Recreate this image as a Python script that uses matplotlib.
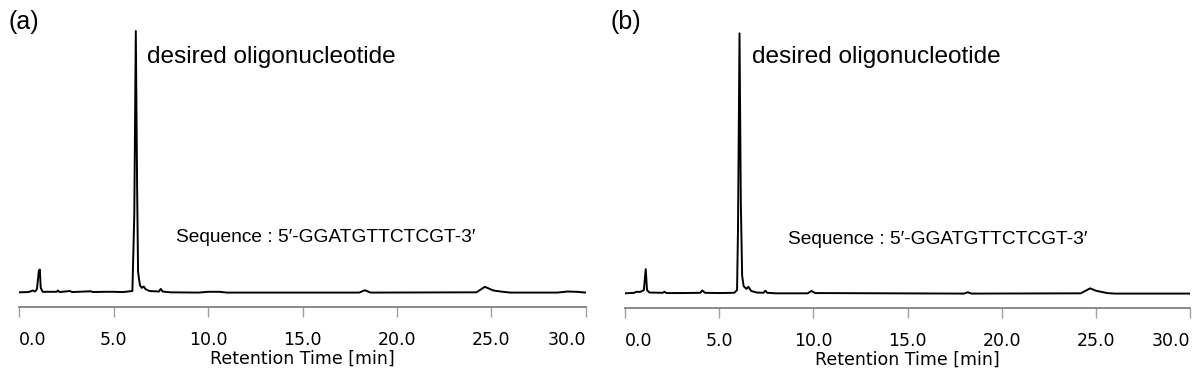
import matplotlib
matplotlib.use("Agg")
import matplotlib.pyplot as plt

# chromatogram (a): retention time [min] and relative signal (main peak = 100)
time_a = [0.0, 0.5, 0.75, 0.85, 0.95, 1.05, 1.1, 1.15, 1.25, 2.0, 2.05, 2.15,
          2.7, 2.8, 3.8, 3.9, 4.5, 5.0, 5.5, 6.0, 6.1, 6.18, 6.25, 6.3, 6.4,
          6.5, 6.6, 6.7, 6.9, 7.4, 7.5, 7.6, 8.0, 9.5, 10.0, 10.6, 11.0, 18.0,
          18.3, 18.6, 24.2, 24.65, 25.1, 25.6, 26.0, 28.5, 29.0, 29.5, 30.0]
signal_a = [0.3, 0.4, 1.0, 0.6, 1.5, 8.5, 9.0, 2.0, 0.5, 0.5, 1.0, 0.4,
            0.8, 0.4, 0.7, 0.4, 0.5, 0.5, 0.4, 0.8, 30, 100, 40, 8, 3,
            2, 2.5, 1.5, 0.8, 0.6, 1.6, 0.6, 0.3, 0.2, 0.5, 0.5, 0.2, 0.2,
            1.1, 0.2, 0.3, 2.4, 1.0, 0.5, 0.2, 0.2, 0.6, 0.5, 0.2]

# chromatogram (b)
time_b = [0.0, 0.5, 0.6, 0.8, 1.0, 1.1, 1.17, 1.3, 2.0, 2.1, 2.2, 3.0, 4.0,
          4.1, 4.25, 5.0, 5.8, 5.95, 6.0, 6.08, 6.15, 6.22, 6.3, 6.45, 6.55,
          6.7, 7.0, 7.35, 7.45, 7.55, 8.0, 9.7, 9.9, 10.1, 18.0, 18.2, 18.4,
          24.2, 24.7, 25.0, 25.6, 26.0, 30.0]
signal_b = [0.3, 0.5, 0.9, 0.8, 1.5, 9.5, 1.5, 0.6, 0.5, 0.9, 0.4, 0.4, 0.5,
            1.4, 0.5, 0.4, 0.5, 1.5, 25, 99.5, 35, 7, 3, 2, 2.8,
            1.2, 0.6, 0.5, 1.3, 0.5, 0.3, 0.3, 1.2, 0.4, 0.2, 0.7, 0.2,
            0.3, 2.2, 1.3, 0.4, 0.2, 0.2]

xticks = [0, 5, 10, 15, 20, 25, 30]
xticklabels = ["0.0", "5.0", "10.0", "15.0", "20.0", "25.0", "30.0"]

panel_labels = ["(a)", "(b)"]
peak_label = "desired oligonucleotide"
seq_label = "Sequence : 5\u2032-GGATGTTCTCGT-3\u2032"

fig = plt.figure(figsize=(12, 3.8), dpi=100)
ax_a = fig.add_axes([19 / 1200, 1 - 307 / 380, 567 / 1200, 282 / 380])
ax_b = fig.add_axes([625 / 1200, 1 - 308 / 380, 565 / 1200, 282 / 380])

for ax, t, s in [(ax_a, time_a, signal_a), (ax_b, time_b, signal_b)]:
    ax.plot(t, s, color="black", lw=1.4)
    ax.set_xlim(0, 30)
    ax.set_ylim(-5.3, 102.3)
    for side in ["top", "left", "right"]:
        ax.spines[side].set_visible(False)
    ax.spines["bottom"].set_color("#808080")
    ax.spines["bottom"].set_linewidth(1.3)
    ax.set_yticks([])
    ax.set_xticks(xticks)
    ax.set_xticklabels(xticklabels, fontsize=12.5, family="DejaVu Sans")
    ax.tick_params(axis="x", direction="out", length=7.5, width=1,
                   color="#a0a0a0", pad=9.5)
    labels = ax.get_xticklabels()
    labels[0].set_horizontalalignment("left")
    labels[-1].set_horizontalalignment("right")
    ax.set_xlabel("Retention Time [min]", fontsize=12.5, family="DejaVu Sans",
                  labelpad=0.5)

txt = dict(family="Liberation Sans", color="black")
fig.text(8 / 1200, 1 - 22 / 380, panel_labels[0], fontsize=18, va="center", **txt)
fig.text(611 / 1200, 1 - 22 / 380, panel_labels[1], fontsize=18, va="center", **txt)
fig.text(147 / 1200, 1 - 57 / 380, peak_label, fontsize=17.6, va="center", **txt)
fig.text(752 / 1200, 1 - 57 / 380, peak_label, fontsize=17.6, va="center", **txt)
fig.text(176 / 1200, 1 - 238 / 380, seq_label, fontsize=13.8, va="center", **txt)
fig.text(788 / 1200, 1 - 240 / 380, seq_label, fontsize=13.8, va="center", **txt)

fig.savefig("out.png", dpi=100)
